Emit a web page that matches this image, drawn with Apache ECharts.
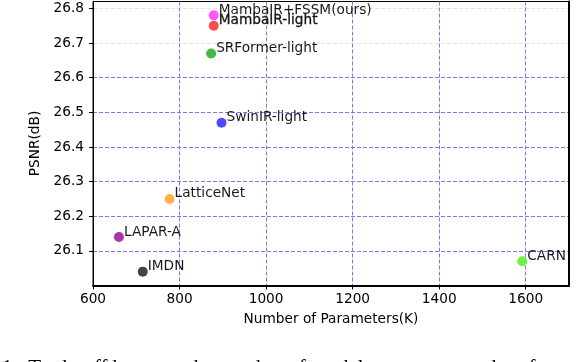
<!DOCTYPE html>
<html><head><meta charset="utf-8">
<script src="https://cdn.jsdelivr.net/npm/echarts@6/dist/echarts.min.js"></script>
<style>html,body{margin:0;padding:0;background:#fff}#c{width:576px;height:362px}</style>
</head><body><div id="c"></div>
<script>
const names = ['MambaIR+FSSM(ours)', 'MambaIR-light', 'SRFormer-light', 'SwinIR-light', 'LatticeNet', 'LAPAR-A', 'IMDN', 'CARN'];
const params = [879, 879, 873, 897, 777, 660, 715, 1592];
const psnr = [26.78, 26.75, 26.67, 26.47, 26.25, 26.14, 26.04, 26.07];
const colors = ['#ff44ff', '#ff3838', '#33b033', '#3838ff', '#ffaa33', '#a020a0', '#303030', '#66ee33'];
const xTicks = [600, 800, 1000, 1200, 1400, 1600];
const yTicks = [26.1, 26.2, 26.3, 26.4, 26.5, 26.6, 26.7, 26.8];
const caption = '1.  Trade-off between the number of model parameters and performance';

const FONT = 'DejaVu Sans';
const FS = 13.7;
const BLUE = '#7a7aee';
const FAINT = '#e4e4d2';

const chart = echarts.init(document.getElementById('c'), null, {renderer: 'canvas'});
const data = names.map((n, i) => ({
  name: n,
  value: [params[i], psnr[i]],
  itemStyle: {color: colors[i], opacity: 0.9},
  label: n === 'MambaIR-light' ? {textBorderColor: '#000', textBorderWidth: 0.3} : {}
}));

chart.setOption({
  animation: false,
  backgroundColor: '#fff',
  grid: {left: 93, right: 7, top: 1.5, bottom: 76.5, show: true, borderColor: '#000', borderWidth: 1, backgroundColor: 'transparent'},
  xAxis: {
    type: 'value', min: 600, max: 1700, interval: 200,
    name: 'Number of Parameters(K)', nameLocation: 'middle', nameGap: 27,
    nameTextStyle: {fontFamily: FONT, fontSize: FS, color: '#000'},
    axisLine: {show: true, onZero: false, lineStyle: {color: '#000', width: 2}},
    axisTick: {show: true, inside: false, length: 4, customValues: xTicks, lineStyle: {color: '#000'}},
    axisLabel: {customValues: xTicks, margin: 7, fontFamily: FONT, fontSize: FS, color: '#000', formatter: v => String(v)},
    splitLine: {show: true, lineStyle: {color: BLUE, width: 1, type: [4, 2]}}
  },
  yAxis: [{
    type: 'value', min: 26.0, max: 26.82, interval: 0.1,
    name: 'PSNR(dB)', nameLocation: 'middle', nameGap: 40,
    nameTextStyle: {fontFamily: FONT, fontSize: FS, color: '#000'},
    axisLine: {show: true, onZero: false, lineStyle: {color: '#000', width: 1}},
    axisTick: {show: true, inside: false, length: 4, customValues: yTicks, lineStyle: {color: '#000'}},
    axisLabel: {customValues: yTicks, margin: 9, fontFamily: FONT, fontSize: FS, color: '#000', formatter: v => v.toFixed(1)},
    splitLine: {show: true, lineStyle: {color: [BLUE, BLUE, BLUE, BLUE, BLUE, BLUE, FAINT, FAINT, '#000'], width: 1, type: [4, 2]}}
  }, {
    type: 'value', min: 26.0, max: 26.82, position: 'right',
    axisLine: {show: true, onZero: false, lineStyle: {color: '#000', width: 2}},
    axisTick: {show: false}, axisLabel: {show: false}, splitLine: {show: false}
  }],
  graphic: [{
    type: 'text', left: 2, top: 358, silent: true,
    style: {text: caption, fontFamily: 'Liberation Serif', fontSize: 21, fill: '#000'}
  }],
  series: [{
    type: 'scatter',
    yAxisIndex: 0,
    symbolSize: 10,
    data: data,
    label: {
      show: true, formatter: '{b}', position: 'right', distance: 0, offset: [0, -5],
      fontFamily: FONT, fontSize: FS, color: '#000'
    }
  }]
});
</script>
</body></html>
